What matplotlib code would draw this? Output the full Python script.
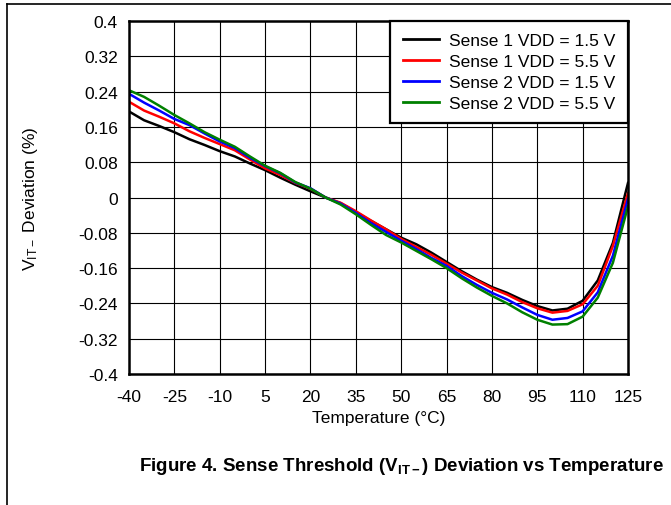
import matplotlib
matplotlib.use("Agg")
import matplotlib.pyplot as plt
from matplotlib.lines import Line2D

plt.rcParams['font.family'] = ['Liberation Sans', 'DejaVu Sans']
plt.rcParams['mathtext.fontset'] = 'custom'
plt.rcParams['mathtext.rm'] = 'Liberation Sans'
plt.rcParams['mathtext.it'] = 'Liberation Sans:italic'
plt.rcParams['mathtext.bf'] = 'Liberation Sans:bold'

temperature = list(range(-40, 130, 5))

sense1_vdd15 = [0.195, 0.175, 0.162, 0.148, 0.132, 0.119, 0.105, 0.093, 0.077, 0.062,
                0.045, 0.029, 0.014, 0.0, -0.013, -0.033, -0.053, -0.072, -0.091, -0.106,
                -0.125, -0.146, -0.167, -0.186, -0.203, -0.216, -0.232, -0.246, -0.256, -0.252,
                -0.234, -0.188, -0.103, 0.033]
sense1_vdd55 = [0.217, 0.197, 0.183, 0.168, 0.150, 0.135, 0.121, 0.107, 0.086, 0.066,
                0.051, 0.033, 0.020, 0.0, -0.012, -0.031, -0.052, -0.072, -0.094, -0.112,
                -0.130, -0.150, -0.170, -0.188, -0.206, -0.220, -0.237, -0.251, -0.261, -0.257,
                -0.242, -0.200, -0.110, 0.010]
sense2_vdd15 = [0.235, 0.215, 0.197, 0.178, 0.164, 0.145, 0.127, 0.112, 0.090, 0.071,
                0.055, 0.034, 0.021, 0.0, -0.014, -0.035, -0.058, -0.078, -0.098, -0.117,
                -0.137, -0.155, -0.178, -0.198, -0.216, -0.231, -0.249, -0.266, -0.277, -0.273,
                -0.258, -0.215, -0.132, -0.003]
sense2_vdd55 = [0.243, 0.228, 0.208, 0.187, 0.168, 0.148, 0.131, 0.115, 0.093, 0.072,
                0.056, 0.035, 0.020, 0.0, -0.016, -0.038, -0.062, -0.085, -0.102, -0.121,
                -0.140, -0.160, -0.183, -0.204, -0.223, -0.240, -0.260, -0.277, -0.288, -0.287,
                -0.270, -0.227, -0.148, -0.020]

series_labels = ["Sense 1 VDD = 1.5 V", "Sense 1 VDD = 5.5 V",
                 "Sense 2 VDD = 1.5 V", "Sense 2 VDD = 5.5 V"]
series_colors = ["#000000", "#ff0000", "#0000ff", "#008000"]

x_ticks = list(range(-40, 126, 15))
y_ticks = [0.4, 0.32, 0.24, 0.16, 0.08, 0, -0.08, -0.16, -0.24, -0.32, -0.4]
y_tick_labels = ["0.4", "0.32", "0.24", "0.16", "0.08", "0", "-0.08", "-0.16", "-0.24", "-0.32", "-0.4"]

fig = plt.figure(figsize=(6.71, 5.06), dpi=100)
ax = fig.add_axes([129/671, 1-375/506, (628-129)/671, (375-22)/506])

for ys, lab, col in zip([sense1_vdd15, sense1_vdd55, sense2_vdd15, sense2_vdd55],
                        series_labels, series_colors):
    ax.plot(temperature, ys, color=col, lw=1.8, label=lab, zorder=3)

ax.set_xlim(-40, 125)
ax.set_ylim(-0.4, 0.4)
ax.set_xticks(x_ticks)
ax.set_xticklabels([str(t) for t in x_ticks])
ax.set_yticks(y_ticks)
ax.set_yticklabels(y_tick_labels)
ax.tick_params(axis='x', length=0, labelsize=12.5, pad=11)
ax.tick_params(axis='y', length=0, labelsize=12.5, pad=8)
ax.grid(True, color='black', lw=0.8)
for s in ax.spines.values():
    s.set_linewidth(1.8)
    s.set_zorder(4)

ax.set_xlabel("Temperature (°C)", fontsize=12.5)
ax.xaxis.set_label_coords(0.5, (375-411)/353)
ax.set_ylabel(r"$\mathregular{V_{IT-}}$ Deviation (%)", fontsize=12.5)
ax.yaxis.set_label_coords((40-129)/499, 0.5)

leg = ax.legend(loc='upper right', fontsize=12.5, frameon=True, fancybox=False,
                edgecolor='black', borderaxespad=0, labelspacing=0.33,
                handlelength=2.1, handletextpad=0.6, borderpad=0.7, framealpha=1)
leg.get_frame().set_linewidth(1.6)
for h in leg.legend_handles:
    h.set_linewidth(2)

fig.text(401/671, 1-467/506,
         r"Figure 4. Sense Threshold ($\mathbf{V_{IT-}}$) Deviation vs Temperature",
         ha='center', va='center', fontsize=13.5, fontweight='bold')

fig.add_artist(Line2D([7/671, 1], [1-5/506, 1-5/506], color='black', lw=1.2,
                      transform=fig.transFigure))
fig.add_artist(Line2D([7/671, 7/671], [0, 1-5/506], color='black', lw=1.2,
                      transform=fig.transFigure))

fig.savefig("out.png", dpi=100)
